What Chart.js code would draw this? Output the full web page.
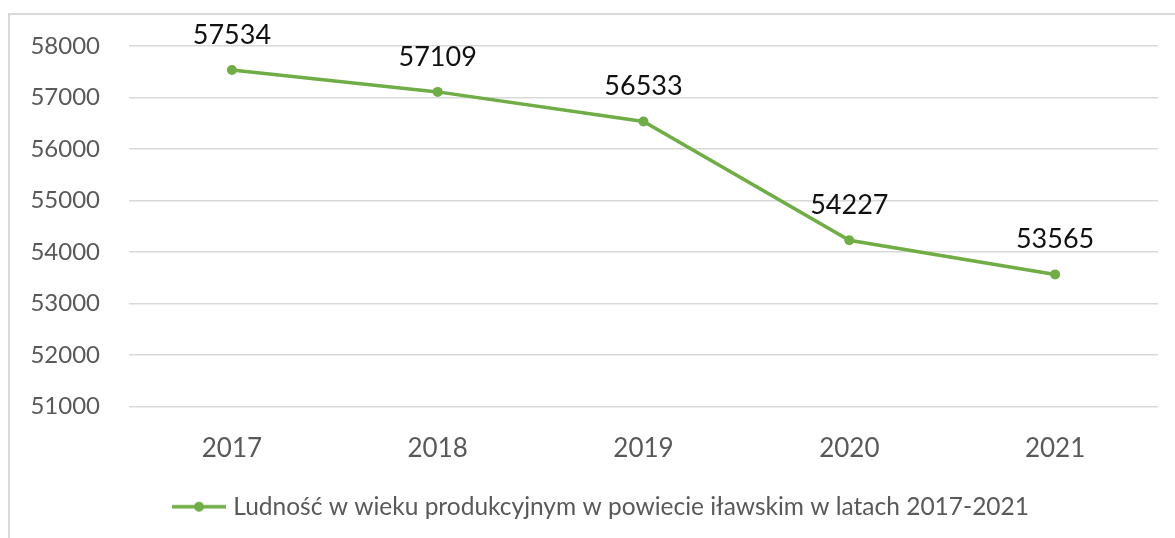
<!DOCTYPE html>
<html>
<head>
<meta charset="utf-8">
<script src="https://cdn.jsdelivr.net/npm/chart.js@4"></script>
<style>
  body { margin: 0; background: #ffffff; }
  #wrap { width: 1175px; height: 538px; }
</style>
</head>
<body>
<div id="wrap"><canvas id="myChart"></canvas></div>
<script>
const lata = ['2017', '2018', '2019', '2020', '2021'];
const ludnosc = [57534, 57109, 56533, 54227, 53565];
const yTicks = [51000, 52000, 53000, 54000, 55000, 56000, 57000, 58000];
const etykieta = 'Ludność w wieku produkcyjnym w powiecie iławskim w latach 2017-2021';

const zielony = '#70AD47';
const szary = '#595959';
const fontName = 'Lato';

let myChart;

// ikonka legendy: linia z kropka w srodku
function ikonaLegendy() {
  const c = document.createElement('canvas');
  c.width = 54;
  c.height = 12;
  const g = c.getContext('2d');
  g.strokeStyle = zielony;
  g.lineWidth = 3.5;
  g.beginPath();
  g.moveTo(0, 6);
  g.lineTo(54, 6);
  g.stroke();
  g.fillStyle = zielony;
  g.beginPath();
  g.arc(27, 6, 5, 0, Math.PI * 2);
  g.fill();
  return c;
}

const ramka = {
  id: 'ramka',
  beforeDraw(chart) {
    const ctx = chart.ctx;
    ctx.save();
    ctx.strokeStyle = '#d9d9d9';
    ctx.lineWidth = 2;
    ctx.beginPath();
    ctx.moveTo(9, chart.height);
    ctx.lineTo(9, 14);
    ctx.lineTo(chart.width, 14);
    ctx.stroke();
    ctx.restore();
  }
};

// legenda w oryginale jest troche bardziej w prawo
const przesunLegende = {
  id: 'przesunLegende',
  afterLayout(chart) {
    if (chart.legend) {
      chart.legend.left += 24;
      chart.legend.right += 24;
    }
  }
};

const etykiety = {
  id: 'etykiety',
  afterDatasetsDraw(chart) {
    const ctx = chart.ctx;
    const meta = chart.getDatasetMeta(0);
    ctx.save();
    ctx.font = '27px ' + fontName;
    ctx.fillStyle = '#111111';
    ctx.textAlign = 'center';
    ctx.textBaseline = 'middle';
    meta.data.forEach((pt, i) => {
      ctx.fillText(String(chart.data.datasets[0].data[i]), pt.x, pt.y - 35);
    });
    ctx.restore();
  }
};

function charts(labels, valores) {
  const ctx = document.getElementById('myChart').getContext('2d');
  myChart = new Chart(ctx, {
    type: 'line',
    data: {
      labels: labels,
      datasets: [{
        label: etykieta,
        data: valores,
        borderColor: zielony,
        backgroundColor: zielony,
        borderWidth: 3.5,
        pointRadius: 5,
        pointHoverRadius: 5,
        pointBorderWidth: 0,
        pointBackgroundColor: zielony,
        fill: false,
        tension: 0
      }]
    },
    options: {
      responsive: true,
      maintainAspectRatio: false,
      animation: false,
      layout: {
        padding: { left: 0, top: 46, right: 17, bottom: 9 }
      },
      scales: {
        x: {
          offset: true,
          grid: { display: false, drawTicks: false },
          border: { display: false },
          ticks: {
            color: szary,
            font: { family: fontName, size: 26 },
            padding: 27,
            maxRotation: 0
          },
          afterFit(scale) { scale.height = 78; }
        },
        y: {
          min: yTicks[0],
          max: yTicks[yTicks.length - 1],
          afterBuildTicks(scale) {
            scale.ticks = yTicks.map(v => ({ value: v }));
          },
          grid: { color: '#d9d9d9', lineWidth: 1.5, drawTicks: false },
          border: { display: false },
          ticks: {
            color: szary,
            font: { family: fontName, size: 24 },
            padding: 29,
            callback: (v) => String(v)
          },
          afterFit(scale) { scale.width = 129; }
        }
      },
      plugins: {
        legend: {
          position: 'bottom',
          labels: {
            usePointStyle: true,
            pointStyle: ikonaLegendy(),
            pointStyleWidth: 44,
            color: szary,
            font: { family: fontName, size: 24.5 },
            padding: 10
          }
        },
        tooltip: { enabled: false }
      }
    },
    plugins: [ramka, przesunLegende, etykiety]
  });
  return myChart;
}

charts(lata, ludnosc);
</script>
</body>
</html>
